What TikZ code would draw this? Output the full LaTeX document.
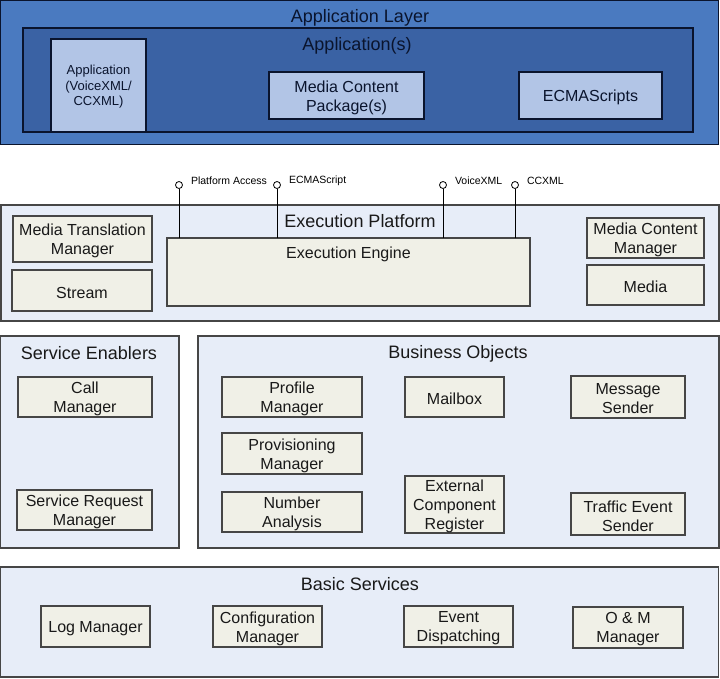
\documentclass[tikz,border=0pt]{standalone}
\usepackage{fontspec}
\setmainfont{Liberation Sans}
\definecolor{outerblue}{RGB}{74,122,192}
\definecolor{innerblue}{RGB}{58,98,164}
\definecolor{subblue}{RGB}{178,197,230}
\definecolor{navytext}{RGB}{10,20,45}
\definecolor{panelfill}{RGB}{231,237,248}
\definecolor{boxfill}{RGB}{240,240,231}
\definecolor{edgegray}{RGB}{70,70,70}
% \mybox{style}{name}{cx}{cy}{w}{h}{text}
\newcommand{\mybox}[7]{%
  \node[#1,minimum width=#5pt,minimum height=#6pt] (#2) at (#3,#4) {};
  \node[#1text] (#2-t) at ([yshift=-2pt]#2.center) {#7};}
\begin{document}
\begin{tikzpicture}[x=1pt,y=-1pt,
  every node/.style={inner sep=0pt,outer sep=0pt,font=\fontsize{16}{19}\selectfont,align=center},
  applayer/.style={draw=navytext,fill=outerblue,line width=1.3pt},
  appinner/.style={draw=navytext,fill=innerblue,line width=1.3pt},
  appbox/.style={draw=navytext,fill=subblue,line width=1.1pt},
  appboxtext/.style={text=navytext},
  appsmalltext/.style={text=navytext,font=\fontsize{13}{15.5}\selectfont},
  panel/.style={draw=edgegray,fill=panelfill,line width=1.3pt},
  compbox/.style={draw=edgegray,fill=boxfill,line width=1.2pt},
  compboxtext/.style={text=black!90},
  paneltitle/.style={font=\fontsize{18}{21}\selectfont,text=black!90},
  apptitle/.style={font=\fontsize{18}{21}\selectfont,text=navytext},
  iface/.style={circle,draw=black,fill=white,line width=0.8pt,minimum size=7pt},
  ifacelabel/.style={anchor=west,font=\fontsize{10.5}{12}\selectfont,text=black},
  ifaceline/.style={draw=black,line width=0.9pt}
]
\useasboundingbox (0,0) rectangle (720,678);
\fill[white] (0,0) rectangle (720,678);

% Application layer
\node[applayer,minimum width=718pt,minimum height=144pt] (applayer) at (359.5,72.5) {};
\node[apptitle] (applayertitle) at (360,17.5) {Application Layer};
\node[appinner,minimum width=670pt,minimum height=104pt] (apps) at (358,80) {};
\node[apptitle] (appstitle) at (357,45.5) {Application(s)};
\node[appbox,minimum width=95pt,minimum height=93pt] (appx) at (98.5,85.5) {};
\node[appsmalltext] (appx-t) at ([yshift=-1.5pt]appx.center) {Application\\(VoiceXML/\\CCXML)};
\mybox{appbox}{mcp}{346.5}{95.5}{155}{47}{Media Content\\Package(s)}
\mybox{appbox}{ecmas}{590.5}{95.5}{143}{47}{ECMAScripts}

% Execution platform
\node[panel,minimum width=718pt,minimum height=116pt] (exec) at (360,263) {};
\node[paneltitle] (exectitle) at (360,221) {Execution Platform};
\mybox{compbox}{mtm}{82.5}{239}{139}{46}{Media Translation\\Manager}
\mybox{compbox}{stream}{82}{290.5}{140}{41}{Stream}
\node[compbox,minimum width=363pt,minimum height=68pt] (engine) at (348.5,272) {};
\node[compboxtext] (enginelabel) at (348.5,254) {Execution Engine};
\mybox{compbox}{mcm}{645.5}{238}{117}{40}{Media Content\\Manager}
\mybox{compbox}{media}{645.5}{285}{117}{40}{Media}

% Interfaces
\node[iface] (ipa) at (179,185) {};
\node[iface] (iecma) at (277,185) {};
\node[iface] (ivxml) at (443,185) {};
\node[iface] (iccxml) at (515,185) {};
\draw[ifaceline] (ipa.south) -- (ipa.south |- engine.north);
\draw[ifaceline] (iecma.south) -- (iecma.south |- engine.north);
\draw[ifaceline] (ivxml.south) -- (ivxml.south |- engine.north);
\draw[ifaceline] (iccxml.south) -- (iccxml.south |- engine.north);
\node[ifacelabel] (lpa) at (191,181) {Platform Access};
\node[ifacelabel] (lecma) at (289,181) {ECMAScript};
\node[ifacelabel] (lvxml) at (455,181) {VoiceXML};
\node[ifacelabel] (lccxml) at (527,181) {CCXML};

% Service enablers
\node[panel,minimum width=179pt,minimum height=212pt] (se) at (89.5,442) {};
\node[paneltitle] (setitle) at (89,353.5) {Service Enablers};
\mybox{compbox}{callmgr}{85}{397}{134}{40}{Call\\Manager}
\mybox{compbox}{srm}{84.5}{510}{135}{40}{Service Request\\Manager}

% Business objects
\node[panel,minimum width=521pt,minimum height=212pt] (bo) at (458.5,442) {};
\node[paneltitle] (botitle) at (458,353.5) {Business Objects};
\mybox{compbox}{profile}{292}{397}{140}{40}{Profile\\Manager}
\mybox{compbox}{prov}{292}{453.5}{140}{41}{Provisioning\\Manager}
\mybox{compbox}{number}{292}{512}{140}{40}{Number\\Analysis}
\mybox{compbox}{mailbox}{454.5}{397}{99}{40}{Mailbox}
\mybox{compbox}{ecr}{454.5}{504.5}{99}{57}{External\\Component\\Register}
\mybox{compbox}{msgsender}{628}{397}{114}{42}{Message\\Sender}
\mybox{compbox}{traffic}{628}{514}{114}{42}{Traffic Event\\Sender}

% Basic services
\node[panel,minimum width=718pt,minimum height=110pt] (bs) at (359.5,622) {};
\node[paneltitle] (bstitle) at (360,584.5) {Basic Services};
\mybox{compbox}{logmgr}{95.5}{626.5}{109}{41}{Log Manager}
\mybox{compbox}{cfgmgr}{267.5}{626.5}{109}{41}{Configuration\\Manager}
\mybox{compbox}{evdisp}{458.5}{626.5}{109}{41}{Event\\Dispatching}
\mybox{compbox}{ommgr}{628}{627.5}{110}{41}{O \& M\\Manager}
\end{tikzpicture}
\end{document}
